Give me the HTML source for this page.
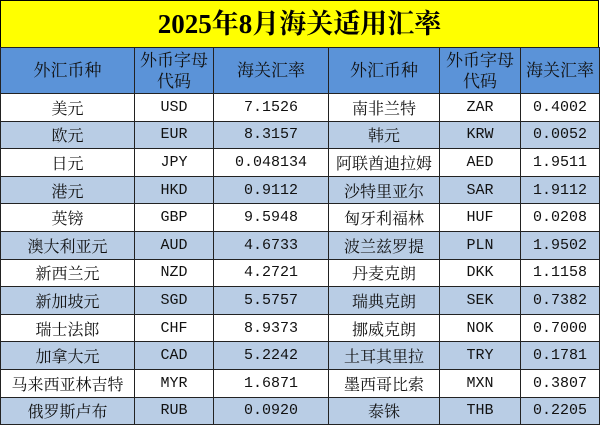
<!DOCTYPE html>
<html><head><meta charset="utf-8"><style>
body{margin:0;width:600px;height:426px;overflow:hidden;background:#fff;}
.t{position:absolute;left:0;top:0;width:599px;height:48px;background:#ffff00;border:1px solid #000;box-sizing:border-box;text-align:center;font:bold 27px/46px "Liberation Serif","Noto Serif CJK SC",serif;color:#000;}
table{position:absolute;left:0;top:47px;border-collapse:collapse;table-layout:fixed;width:599px;}
td{border:1px solid #222;text-align:center;padding:0;height:26.6px;font:16px "Liberation Serif","Noto Serif CJK SC",serif;color:#111;white-space:nowrap;overflow:hidden;}
tr.h td{background:#5b93d8;height:45px;line-height:21px;font-size:17px;}
tr.b td{background:#b9cde5;}
td.m{font-family:"Liberation Mono",monospace;font-size:15px;}
td.c{font-family:"Liberation Mono",monospace;font-size:15px;}
</style></head><body>
<div class="t">2025年8月海关适用汇率</div>
<table>
<colgroup><col style="width:134px"><col style="width:79px"><col style="width:115px"><col style="width:111px"><col style="width:81px"><col style="width:79px"></colgroup>
<tr class="h"><td>外汇币种</td><td>外币字母<br>代码</td><td>海关汇率</td><td>外汇币种</td><td>外币字母<br>代码</td><td>海关汇率</td></tr>
<tr><td>美元</td><td class="c">USD</td><td class="m">7.1526</td><td>南非兰特</td><td class="c">ZAR</td><td class="m">0.4002</td></tr>
<tr class="b"><td>欧元</td><td class="c">EUR</td><td class="m">8.3157</td><td>韩元</td><td class="c">KRW</td><td class="m">0.0052</td></tr>
<tr><td>日元</td><td class="c">JPY</td><td class="m">0.048134</td><td>阿联酋迪拉姆</td><td class="c">AED</td><td class="m">1.9511</td></tr>
<tr class="b"><td>港元</td><td class="c">HKD</td><td class="m">0.9112</td><td>沙特里亚尔</td><td class="c">SAR</td><td class="m">1.9112</td></tr>
<tr><td>英镑</td><td class="c">GBP</td><td class="m">9.5948</td><td>匈牙利福林</td><td class="c">HUF</td><td class="m">0.0208</td></tr>
<tr class="b"><td>澳大利亚元</td><td class="c">AUD</td><td class="m">4.6733</td><td>波兰兹罗提</td><td class="c">PLN</td><td class="m">1.9502</td></tr>
<tr><td>新西兰元</td><td class="c">NZD</td><td class="m">4.2721</td><td>丹麦克朗</td><td class="c">DKK</td><td class="m">1.1158</td></tr>
<tr class="b"><td>新加坡元</td><td class="c">SGD</td><td class="m">5.5757</td><td>瑞典克朗</td><td class="c">SEK</td><td class="m">0.7382</td></tr>
<tr><td>瑞士法郎</td><td class="c">CHF</td><td class="m">8.9373</td><td>挪威克朗</td><td class="c">NOK</td><td class="m">0.7000</td></tr>
<tr class="b"><td>加拿大元</td><td class="c">CAD</td><td class="m">5.2242</td><td>土耳其里拉</td><td class="c">TRY</td><td class="m">0.1781</td></tr>
<tr><td>马来西亚林吉特</td><td class="c">MYR</td><td class="m">1.6871</td><td>墨西哥比索</td><td class="c">MXN</td><td class="m">0.3807</td></tr>
<tr class="b"><td>俄罗斯卢布</td><td class="c">RUB</td><td class="m">0.0920</td><td>泰铢</td><td class="c">THB</td><td class="m">0.2205</td></tr>
</table>
</body></html>
